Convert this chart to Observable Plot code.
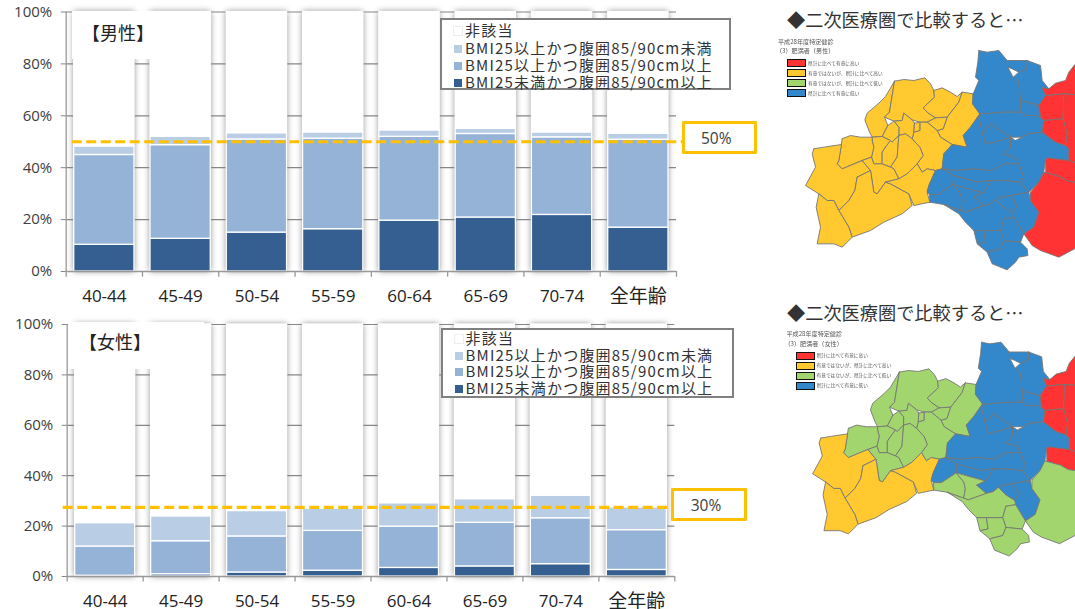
<!DOCTYPE html>
<html lang="ja">
<head>
<meta charset="utf-8">
<script src="https://cdn.jsdelivr.net/npm/d3@7"></script>
<script src="https://cdn.jsdelivr.net/npm/@observablehq/plot@0.6"></script>
<style>
  html, body { margin: 0; padding: 0; background: #fff; }
  body { width: 1075px; height: 609px; position: relative; overflow: hidden;
         font-family: "Noto Sans CJK JP", "Noto Sans", sans-serif; color: #404040; }
  .abs { position: absolute; }
  .abs svg { display: block; overflow: visible; }
  .sexbox { background: #fff; font-size: 18px; color: #222; line-height: 1; letter-spacing: 0; }
  .legend { background: #fff; border: 2px solid #808080; box-sizing: border-box; }
  .legend div { position: absolute; left: 12px; white-space: nowrap; font-size: 15px; line-height: 17px;
                height: 17px; color: #333; letter-spacing: 1.2px; }
  .legend i { display: inline-block; width: 8px; height: 8px; margin-right: 3px; vertical-align: 1px; }
  .callout { border: 3.5px solid #FFC000; box-sizing: border-box; background: #fff; border-radius: 1px;
             font: 15.5px "Open Sans", sans-serif; color: #404040; text-align: center; padding-right: 6px; }
  .maptitle { font-size: 18.2px; color: #333; white-space: nowrap; line-height: 1; }
  .mapnote { filter: blur(.35px); color: #555; white-space: nowrap; }
  .mapnote .h { position: absolute; left: 0; font-size: 6.1px; line-height: 1; }
  .mapnote .k { position: absolute; left: 9px; width: 17px; height: 6px; border: 1px solid #111; box-sizing: content-box; }
  .mapnote .t { position: absolute; left: 30px; font-size: 4.7px; line-height: 1; }
</style>
</head>
<body>
<script>
// 年齢階級
const ages = ["40-44", "45-49", "50-54", "55-59", "60-64", "65-69", "70-74", "全年齢"];

// 積み上げの系列（下から順）
const seriesNames = [
  "BMI25未満かつ腹囲85/90cm以上",
  "BMI25以上かつ腹囲85/90cm以上",
  "BMI25以上かつ腹囲85/90cm未満",
  "非該当"
];
const seriesColors = ["#355F91", "#95B3D7", "#B9CDE5", "#FFFFFF"];

// 男性（%）
const maleLean  = [10.3, 12.6, 15.0, 16.3, 19.6, 20.8, 21.8, 16.9];
const maleBoth  = [34.6, 36.1, 35.9, 34.9, 32.3, 32.2, 29.9, 33.9];
const maleBmi   = [3.3, 3.2, 2.4, 2.4, 2.5, 2.0, 1.9, 2.3];
const maleNone  = [51.8, 48.1, 46.7, 46.4, 45.6, 45.0, 46.4, 46.9];

// 女性（%）
const femaleLean = [0.3, 0.9, 1.6, 2.3, 3.4, 4.0, 4.9, 2.6];
const femaleBoth = [11.6, 13.1, 14.3, 15.8, 16.4, 17.3, 18.2, 15.8];
const femaleBmi  = [9.3, 9.9, 10.1, 8.8, 9.3, 9.4, 9.0, 9.1];
const femaleNone = [78.8, 76.1, 74.0, 73.1, 70.9, 69.3, 67.9, 72.5];

// 破線の高さ（軸上の値）と吹き出しの表記
const maleLine = 50;
const femaleLine = 27.4; // 吹き出しは丸めて「30%」と表記している
const maleCallout = "50%";
const femaleCallout = "30%";

// 地図の凡例
const mapClasses = ["県計に比べて有意に高い", "有意ではないが、県計に比べて高い", "有意ではないが、県計に比べて低い", "県計に比べて有意に低い"];
const mapColors = ["#FF3333", "#FFC92F", "#A3D56F", "#3388CC"];

// 市町村の輪郭 [男性の区分, 女性の区分, 頂点列]（区分は mapClasses の番号）
const municipalities = [
  [1, 2, [372,242, 345,288, 325,308, 290,338, 283,358, 297,395, 305,410, 335,408, 352,375, 342,350, 357,335]],
  [1, 2, [372,242, 400,237, 430,240, 463,232, 480,250, 490,270, 492,290, 458,322, 470,335, 495,352, 470,365, 448,365, 425,358, 400,338, 395,360, 370,362, 342,350, 357,335]],
  [1, 2, [490,270, 515,262, 540,275, 560,288, 575,275, 565,305, 530,350, 495,352, 470,335, 458,322, 492,290]],
  [1, 2, [575,275, 608,280, 606,310, 628,340, 600,380, 578,405, 590,440, 545,432, 510,410, 500,390, 518,385, 530,350, 565,305]],
  [1, 2, [495,352, 530,350, 518,385, 500,390, 470,365]],
  [1, 2, [448,365, 470,365, 500,390, 510,410, 545,432, 520,460, 515,505, 495,510, 470,505, 455,515, 440,490, 458,465, 448,440, 425,415, 430,395, 448,390]],
  [1, 2, [370,362, 395,360, 400,338, 425,358, 432,368, 430,395, 425,415, 405,400, 385,405, 385,380]],
  [1, 2, [432,368, 448,365, 448,390, 430,395]],
  [1, 2, [352,375, 370,362, 385,380, 385,405, 365,425, 360,420, 335,408]],
  [1, 2, [305,420, 305,410, 335,408, 360,420, 345,440, 335,455, 335,490, 310,490, 303,470, 310,440]],
  [1, 2, [345,440, 360,420, 365,425, 385,405, 380,470, 360,500, 335,490, 335,455]],
  [1, 2, [385,405, 405,400, 425,415, 448,440, 458,465, 440,490, 410,520, 385,535, 370,505, 360,500, 380,470]],
  [1, 2, [215,415, 205,480, 200,490, 215,505, 275,480, 303,470, 310,440, 305,420, 305,410, 270,410, 240,405]],
  [1, 1, [130,445, 160,440, 213,432, 205,480, 200,490, 215,505, 275,480, 300,510, 260,530, 253,570, 235,600, 205,630, 190,600, 170,600, 145,580, 105,555, 135,500, 125,460]],
  [1, 2, [275,480, 303,470, 310,490, 335,490, 360,500, 370,505, 385,535, 345,545, 320,580, 310,575, 300,510]],
  [1, 1, [260,530, 300,510, 310,575, 320,580, 345,545, 360,550, 415,580, 425,615, 395,640, 340,665, 300,690, 245,710, 235,680, 205,630, 235,600, 253,570]],
  [1, 1, [145,580, 170,600, 190,600, 205,630, 235,680, 245,710, 215,740, 190,730, 140,730, 150,680, 137,620]],
  [1, 1, [345,545, 385,535, 410,520, 440,490, 455,515, 470,505, 495,510, 475,555, 470,575, 478,605, 430,615, 415,580, 360,550]],
  [3, 3, [625,150, 650,155, 685,150, 710,180, 712,200, 728,230, 745,245, 750,300, 752,335, 700,335, 635,340, 628,340, 606,310, 608,280, 625,240, 615,230, 622,185]],
  [3, 3, [710,180, 770,180, 770,205, 745,215, 725,205, 712,200]],
  [3, 3, [770,180, 810,195, 815,240, 835,265, 815,262, 825,285, 805,315, 750,300, 745,245, 728,230, 745,215, 770,205]],
  [3, 3, [750,300, 805,315, 810,350, 820,360, 800,345, 765,345, 752,335]],
  [3, 3, [628,340, 635,340, 625,350, 635,395, 645,430, 670,425, 720,410, 720,440, 700,460, 735,470, 745,490, 700,490, 660,510, 610,505, 560,510, 515,505, 520,460, 545,432, 590,440, 578,405, 600,380]],
  [3, 3, [625,350, 635,340, 700,335, 752,335, 765,345, 800,345, 820,360, 815,395, 770,400, 755,410, 720,410, 690,390, 660,370, 650,385, 635,395]],
  [3, 3, [635,395, 650,385, 660,370, 690,390, 720,410, 670,425, 645,430]],
  [3, 3, [770,400, 815,395, 855,425, 885,435, 895,445, 895,480, 825,475, 820,515, 805,545, 775,575, 750,545, 760,530, 745,490, 735,470, 735,420, 755,410]],
  [3, 3, [720,410, 735,420, 735,470, 700,460, 720,440]],
  [3, 3, [515,505, 560,510, 610,505, 660,510, 700,490, 745,490, 760,530, 750,545, 700,540, 660,540, 620,545, 550,525]],
  [3, 3, [495,510, 515,505, 550,525, 547,552, 502,582, 477,582, 470,575, 475,555]],
  [3, 2, [478,605, 477,582, 502,582, 547,552, 570,580, 575,600, 570,630, 520,612]],
  [3, 3, [550,525, 620,545, 660,540, 650,560, 637,577, 547,552]],
  [3, 2, [547,552, 637,577, 610,590, 640,615, 585,635, 570,630, 575,600, 570,580]],
  [3, 3, [660,540, 700,540, 750,545, 775,575, 720,585, 690,590, 677,597, 660,610, 640,615, 610,590, 637,577, 650,560]],
  [3, 3, [677,597, 690,590, 720,585, 740,615, 727,637, 700,620]],
  [3, 3, [740,615, 720,585, 775,575, 780,600, 805,635, 790,680, 760,700, 730,650, 727,637]],
  [3, 2, [520,612, 570,630, 585,635, 640,615, 660,610, 677,597, 700,620, 727,637, 730,650, 700,655, 690,690, 640,690, 610,690, 585,665, 565,640]],
  [3, 2, [700,655, 730,650, 760,700, 750,725, 700,720, 690,690]],
  [3, 2, [610,690, 640,690, 645,725, 620,730]],
  [3, 2, [640,690, 690,690, 700,720, 690,745, 650,755, 620,730, 645,725]],
  [3, 2, [700,720, 750,725, 770,745, 772,765, 745,770, 735,785, 710,808, 665,790, 650,755, 690,745]],
  [0, 0, [815,262, 835,265, 855,248, 885,240, 895,215, 915,190, 950,185, 950,285, 880,280, 830,285, 825,285]],
  [0, 0, [825,285, 880,280, 878,355, 820,360, 810,350, 805,315]],
  [0, 0, [820,360, 878,355, 890,400, 885,435, 855,425, 815,395]],
  [0, 0, [880,280, 950,285, 950,500, 895,480, 895,445, 885,435, 890,400, 878,355]],
  [0, 0, [825,477, 832,472, 895,480, 950,500, 950,550, 892,542, 867,528, 826,517]],
  [0, 2, [826,517, 867,528, 892,542, 950,550, 950,725, 865,770, 810,750, 785,735, 760,700, 790,680, 805,635, 780,600, 780,575, 805,545, 820,515]]
];

// 積み上げ棒グラフ一枚分
function stackedChart(cfg) {
  const rows = ages.flatMap((age, i) => cfg.values.map((v, s) => ({age, series: seriesNames[s], value: v[i], s})));
  const inner = cfg.width - cfg.marginLeft - cfg.marginRight;
  const step = inner / ages.length;
  const grid = "#868686";
  const axisGray = "#999";
  return Plot.plot({
    width: cfg.width,
    height: cfg.height,
    marginLeft: cfg.marginLeft,
    marginRight: cfg.marginRight,
    marginTop: cfg.marginTop,
    marginBottom: cfg.marginBottom,
    style: {background: "transparent", overflow: "visible", fontFamily: "'Open Sans', 'Noto Sans CJK JP', sans-serif"},
    x: {domain: ages, paddingInner: 0.21, paddingOuter: 0.105, align: 0.5, round: false, label: null},
    y: {domain: [0, 100], label: null},
    color: {domain: seriesNames, range: seriesColors},
    marks: [
      // 棒の周囲の影
      Plot.barY(ages, {x: d => d, y1: 0, y2: 100, fill: "#fff", imageFilter: "drop-shadow(0 0 3px rgba(0,0,0,.5))"}),
      // 目盛線
      Plot.ruleY([0, 20, 40, 60, 80, 100], {stroke: grid, strokeWidth: 1.2}),
      // 積み上げ棒
      Plot.barY(rows, {
        x: "age", y: "value", fill: "series", order: seriesNames,
        stroke: "#fff", strokeWidth: 1.3
      }),
      // 軸線
      Plot.ruleY([0], {stroke: axisGray, strokeWidth: 1.5}),
      Plot.ruleX(ages.slice(0, 1), {x: d => d, dx: -step / 2, y1: 0, y2: 100, stroke: axisGray, strokeWidth: 1.3}),
      Plot.ruleX(ages, {x: d => d, dx: -step / 2, y1: 0, y2: -2.2, stroke: axisGray, strokeWidth: 1.3}),
      Plot.ruleX(ages.slice(-1), {x: d => d, dx: step / 2, y1: 0, y2: -2.2, stroke: axisGray, strokeWidth: 1.3}),
      // 破線
      Plot.ruleY([cfg.line], {
        stroke: "#FFC000", strokeWidth: 3.2, strokeDasharray: "10 4.5",
        insetLeft: cfg.lineInsetLeft, insetRight: cfg.lineInsetRight
      }),
      Plot.axisY({ticks: [0, 20, 40, 60, 80, 100], tickFormat: d => d + "%", tickSize: 5, tickPadding: 9,
                  stroke: grid, fontSize: 15, fill: "#404040", label: null}),
      Plot.axisX({ticks: ages.slice(0, -1), tickSize: 0, tickPadding: 18, fontSize: 17, fill: "#222", label: null}),
      Plot.axisX({ticks: ages.slice(-1), tickSize: 0, tickPadding: 18, fontSize: 19, fill: "#222", label: null})
    ]
  });
}

// 二次医療圏の塗り分け地図
function regionMap(classIndex) {
  const pts = municipalities.flatMap((m, id) => {
    const ring = m[2], out = [];
    for (let i = 0; i <= ring.length; i += 2) {
      const k = i % ring.length;
      out.push({id, px: ring[k], py: ring[k + 1], cls: mapClasses[m[classIndex]]});
    }
    return out;
  });
  return Plot.plot({
    width: 305, height: 280, margin: 0,
    style: {background: "transparent", overflow: "visible"},
    x: {domain: [0, 915], axis: null},
    y: {domain: [840, 0], axis: null},
    color: {domain: mapClasses, range: mapColors},
    marks: [
      Plot.line(pts, {x: "px", y: "py", z: "id", fill: "cls", stroke: "#757575", strokeWidth: 0.9, strokeLinejoin: "round"})
    ]
  });
}

function place(node, left, top, cls) {
  const d = document.createElement("div");
  d.className = "abs " + (cls || "");
  d.style.left = left + "px";
  d.style.top = top + "px";
  if (node) d.append(node);
  document.body.append(d);
  return d;
}

function legendBox(left, top, width, height, rowTops) {
  const d = place(null, left, top, "legend");
  d.style.width = width + "px";
  d.style.height = height + "px";
  const order = [3, 2, 1, 0];
  order.forEach((s, r) => {
    const row = document.createElement("div");
    row.style.top = rowTops[r] + "px";
    const sw = document.createElement("i");
    sw.style.background = seriesColors[s];
    if (s === 3) sw.style.outline = "1px solid #eee";
    row.append(sw, seriesNames[s]);
    d.append(row);
  });
}

function sexLabel(text, left, top, width, height, textLeft, textTop) {
  const d = place(null, left, top, "sexbox");
  d.style.width = width + "px";
  d.style.height = height + "px";
  const s = document.createElement("span");
  s.className = "abs";
  s.style.left = textLeft + "px";
  s.style.top = textTop + "px";
  s.textContent = text;
  d.append(s);
}

function callout(text, left, top, width, height) {
  const d = place(null, left, top, "callout");
  d.style.width = width + "px";
  d.style.height = height + "px";
  d.style.lineHeight = (height - 5) + "px";
  d.textContent = text;
}

function mapNote(left, top, sex) {
  const d = place(null, left, top, "mapnote");
  const h1 = document.createElement("span");
  h1.className = "h"; h1.style.top = "0px"; h1.textContent = "平成28年度特定健診";
  const h2 = document.createElement("span");
  h2.className = "h"; h2.style.top = "9.5px"; h2.style.left = "-2px"; h2.textContent = "（3）肥満者（" + sex + "）";
  d.append(h1, h2);
  mapClasses.forEach((c, i) => {
    const k = document.createElement("span");
    k.className = "k"; k.style.top = (20.5 + i * 10) + "px"; k.style.background = mapColors[i];
    const t = document.createElement("span");
    t.className = "t"; t.style.top = (22 + i * 10) + "px"; t.textContent = c;
    d.append(k, t);
  });
}

// 男性
place(stackedChart({
  values: [maleLean, maleBoth, maleBmi, maleNone], line: maleLine,
  width: 760, height: 310, marginLeft: 65.7, marginRight: 84, marginTop: 11.5, marginBottom: 39,
  lineInsetLeft: 6, lineInsetRight: -6
}), 0, 0);
sexLabel("【男性】", 72, 11, 138, 48, 10, 12);
legendBox(440, 18, 291, 72, [0.5, 18.5, 35.5, 53]);
callout(maleCallout, 681.5, 121, 75.5, 33);

// 女性
place(stackedChart({
  values: [femaleLean, femaleBoth, femaleBmi, femaleNone], line: femaleLine,
  width: 760, height: 299, marginLeft: 66.7, marginRight: 85.7, marginTop: 14, marginBottom: 33,
  lineInsetLeft: -4, lineInsetRight: 4
}), 0, 310);
sexLabel("【女性】", 68, 322, 136, 47, 11, 10);
legendBox(440.5, 328, 293.5, 70, [-1.5, 15.5, 31.5, 48.5]);
callout(femaleCallout, 671, 487.5, 76, 33);

// 地図
const t1 = place(null, 787, 10, "maptitle"); t1.textContent = "◆二次医療圏で比較すると…";
mapNote(778, 38.5, "男性");
const m1 = place(regionMap(0), 770, 0); m1.style.filter = "blur(.45px)";

const t2 = place(null, 787, 303, "maptitle"); t2.textContent = "◆二次医療圏で比較すると…";
mapNote(786.5, 331, "女性");
const m2 = place(regionMap(1), 777.7, 292.7); m2.style.filter = "blur(.45px)";
</script>
</body>
</html>
